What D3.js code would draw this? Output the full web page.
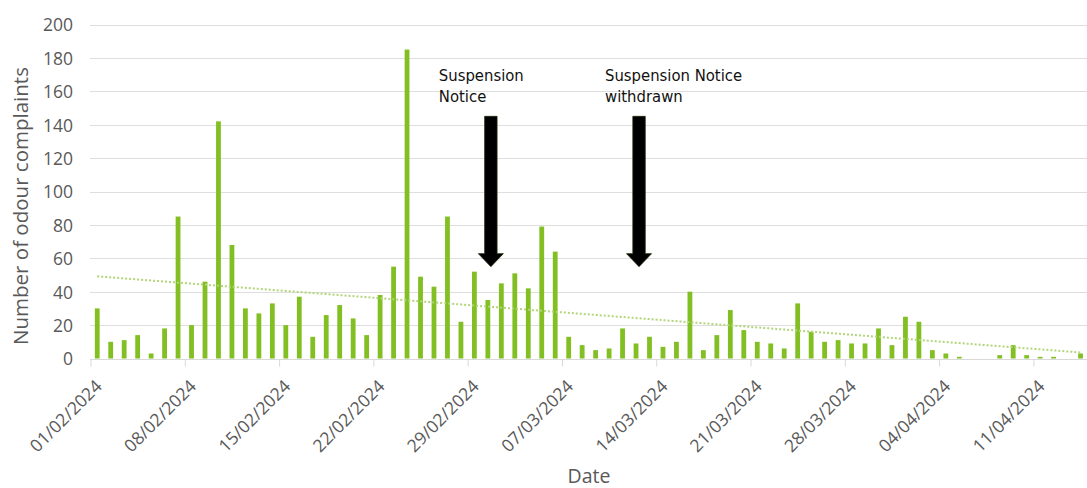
<!DOCTYPE html>
<html>
<head>
<meta charset="utf-8">
<script src="https://cdn.jsdelivr.net/npm/d3@7"></script>
<style>
  html, body { margin: 0; padding: 0; background: #ffffff; }
  svg { display: block; }
</style>
</head>
<body>
<svg id="chart" width="1087" height="488"></svg>
<script>
// Daily odour complaints, 01/02/2024 – 14/04/2024
const firstDay = "01/02/2024";
const lastDay = "14/04/2024";
const complaints = [
  30, 10, 11, 14, 3, 18, 85, 20, 46, 142,
  68, 30, 27, 33, 20, 37, 13, 26, 32, 24,
  14, 38, 55, 185, 49, 43, 85, 22, 52, 35,
  45, 51, 42, 79, 64, 13, 8, 5, 6, 18,
  9, 13, 7, 10, 40, 5, 14, 29, 17, 10,
  9, 6, 33, 16, 10, 11, 9, 9, 18, 8,
  25, 22, 5, 3, 1, 0, 0, 2, 8, 2,
  1, 1, 0, 3
];
const xTickLabels = ["01/02/2024", "08/02/2024", "15/02/2024", "22/02/2024", "29/02/2024",
  "07/03/2024", "14/03/2024", "21/03/2024", "28/03/2024", "04/04/2024", "11/04/2024"];
const yTickValues = [0, 20, 40, 60, 80, 100, 120, 140, 160, 180, 200];
const noteDates = ["01/03/2024", "12/03/2024"];
const noteTexts = [["Suspension", "Notice"], ["Suspension Notice", "withdrawn"]];
const arrowFrom = 145, arrowTo = 55;   // arrows run between these complaint levels
const yTitle = "Number of odour complaints";
const xTitle = "Date";

const parse = d3.timeParse("%d/%m/%Y");
const days = d3.timeDay.range(parse(firstDay), d3.timeDay.offset(parse(lastDay), 1));
const data = days.map((d, i) => ({ date: d, value: complaints[i] }));

const svg = d3.select("#chart");
const left = 90.5, dayW = 13.47;
const x = d3.scaleTime()
  .domain([parse(firstDay), d3.timeDay.offset(parse(lastDay), 1)])
  .range([left, left + days.length * dayW]);
const y = d3.scaleLinear().domain([0, 200]).range([358.5, 24.5]);
const mid = d => x(d3.timeHour.offset(d, 12));

const tickFont = "'Open Sans', 'Noto Sans', sans-serif";
const grey = "#595959";

// horizontal gridlines
svg.append("g")
  .selectAll("line")
  .data(yTickValues.filter(v => v > 0))
  .join("line")
  .attr("x1", 90).attr("x2", 1087)
  .attr("y1", d => Math.round(y(d)) + 0.5).attr("y2", d => Math.round(y(d)) + 0.5)
  .attr("stroke", "#dedede").attr("stroke-width", 1.2);

// y axis labels
const yAxis = d3.axisLeft(y).tickValues(yTickValues).tickSize(0).tickPadding(0);
svg.append("g")
  .attr("transform", "translate(73,0)")
  .call(yAxis)
  .call(g => g.select(".domain").remove())
  .call(g => g.selectAll("text")
    .attr("font-family", tickFont).attr("font-size", 17.5)
    .attr("fill", grey).attr("dy", "0.36em"));

// bars
svg.append("g")
  .selectAll("rect")
  .data(data)
  .join("rect")
  .attr("x", d => mid(d.date) - 2.4)
  .attr("width", 4.8)
  .attr("y", d => y(d.value))
  .attr("height", d => y(0) - y(d.value))
  .attr("fill", "#82bf22");

// x axis with weekly ticks
const xTicks = xTickLabels.map(parse);
const xAxis = d3.axisBottom(x).tickValues(xTicks).tickSize(7).tickFormat(d3.timeFormat("%d/%m/%Y"));
svg.append("g")
  .attr("transform", `translate(0,${y(0) + 1})`)
  .call(xAxis)
  .call(g => g.select(".domain").attr("stroke", "#d9d9d9").attr("d", `M90,0H1087`))
  .call(g => g.selectAll(".tick line").attr("stroke", "#d9d9d9"))
  .call(g => g.selectAll(".tick text")
    .attr("font-family", tickFont).attr("font-size", 17.5).attr("fill", grey)
    .attr("text-anchor", "end")
    .attr("x", 0).attr("y", 0).attr("dy", 0)
    .attr("transform", "translate(12,28) rotate(-45)"));

// linear trend line (least squares over the daily counts)
const idx = data.map((d, i) => i);
const mx = d3.mean(idx), my = d3.mean(complaints);
const slope = d3.sum(idx, i => (i - mx) * (complaints[i] - my)) / d3.sum(idx, i => (i - mx) ** 2);
const intercept = my - slope * mx;
const trend = [0, data.length - 1].map(i => ({ date: data[i].date, value: intercept + slope * i }));
svg.append("path")
  .datum(trend)
  .attr("d", d3.line().x(d => mid(d.date)).y(d => y(d.value)))
  .attr("fill", "none")
  .attr("stroke", "#b2d57a")
  .attr("stroke-width", 2)
  .attr("stroke-dasharray", "2,2");

// notice arrows
const noteFont = "'DejaVu Sans Condensed', 'DejaVu Sans', sans-serif";
const textShift = [-52, -34];
noteDates.forEach((ds, k) => {
  const cx = mid(parse(ds)) + 3;
  const top = y(arrowFrom), tip = y(arrowTo), headH = 13, shaft = 6.2, head = 12.5;
  const pts = [
    [cx - shaft, top], [cx + shaft, top], [cx + shaft, tip - headH], [cx + head, tip - headH],
    [cx, tip], [cx - head, tip - headH], [cx - shaft, tip - headH]
  ];
  svg.append("path")
    .attr("d", d3.line()(pts) + "Z")
    .attr("fill", "#000")
    .attr("stroke", "#1a2a08").attr("stroke-width", 0.8);
  const t = svg.append("text")
    .attr("font-family", noteFont).attr("font-size", 16.5).attr("fill", "#111");
  noteTexts[k].forEach((line, j) => {
    t.append("tspan").attr("x", cx + textShift[k]).attr("y", 80.5 + j * 21.5).text(line);
  });
});

// axis titles
svg.append("text")
  .attr("transform", `translate(28,${206}) rotate(-90)`)
  .attr("text-anchor", "middle")
  .attr("font-family", tickFont).attr("font-size", 20.5).attr("fill", grey)
  .text(yTitle);
svg.append("text")
  .attr("x", 589).attr("y", 483)
  .attr("text-anchor", "middle")
  .attr("font-family", tickFont).attr("font-size", 19.5).attr("fill", grey)
  .text(xTitle);
</script>
</body>
</html>
